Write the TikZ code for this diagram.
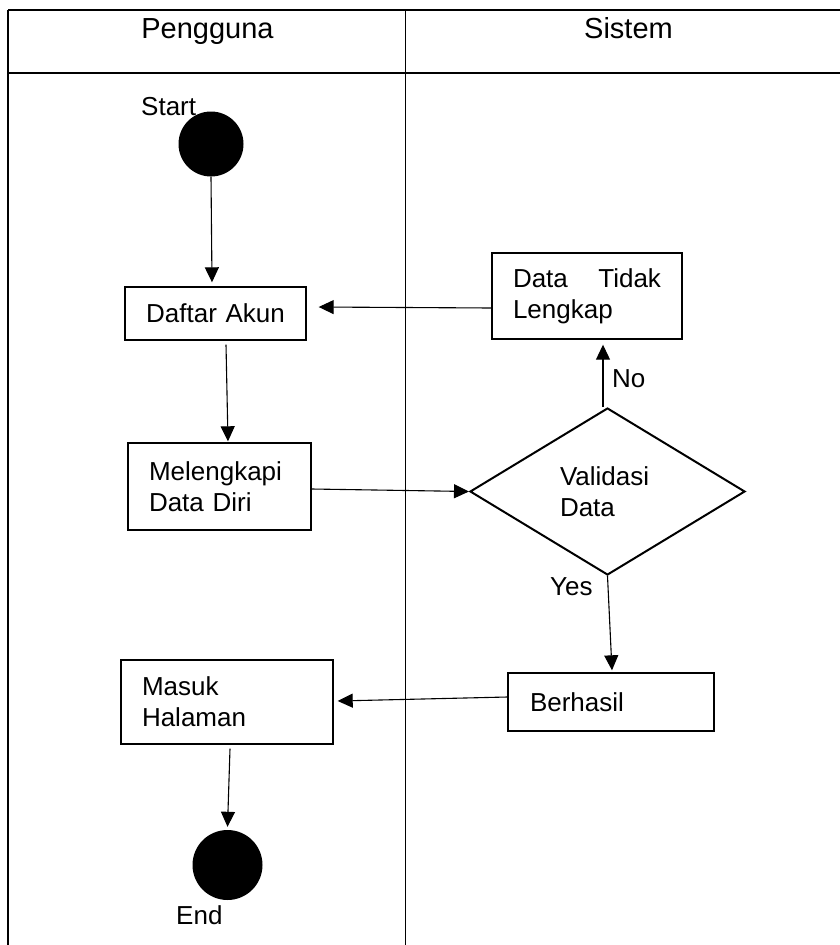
\documentclass[tikz,border=0pt]{standalone}
\usepackage{fontspec}
\setmainfont{Liberation Sans}
\usetikzlibrary{arrows.meta,shapes.geometric}

\begin{document}
\begin{tikzpicture}[x = 1pt, y = -1pt,
	act/.style = {rectangle, draw, line width = 1.4pt, align = left, inner ysep = 0pt, font = \fontsize{26}{31}\selectfont},
	lbl/.style = {inner sep = 0pt, anchor = base west, font = \fontsize{26}{31}\selectfont},
	hdr/.style = {inner sep = 0pt, anchor = base, font = \fontsize{29}{34}\selectfont},
	arr/.style = {-{Triangle[length = 15pt, width = 14pt]}, line width = 1.1pt},
	dot/.style = {circle, fill = black, inner sep = 0pt}]

\useasboundingbox (0, 0) rectangle (840, 945);

%% Draw Lanes

\draw[line width = 1.4pt] (8, 10) -- (840, 10);
\draw[line width = 1.4pt] (8, 73) -- (840, 73);
\draw[line width = 1.2pt] (8, 10) -- (8, 945);
\draw[line width = 1.2pt] (405.5, 10) -- (405.5, 945);

\node[hdr] (pengguna) at (207.5, 38) {Pengguna};
\node[hdr] (sistem) at (628.5, 38) {Sistem};

%% Start and End

\node[dot, minimum size = 65pt] (start) at (211, 144) {};
\node[lbl] (starttxt) at (141, 115) {Start};

\node[dot, minimum size = 70pt] (end) at (227.5, 865) {};
\node[lbl] (endtxt) at (176, 924) {End};

%% Activities

\node[act, align = center, text width = 161pt, inner xsep = 10pt, minimum height = 53pt] (daftar) at (215.5, 313.5) {Daftar Akun};

\node[act, text width = 141pt, inner xsep = 21pt, minimum height = 87pt] (mel) at (219.5, 486.5) {Melengkapi\\Data Diri};

\node[act, text width = 148pt, inner xsep = 21pt, minimum height = 86pt] (tidak) at (587, 296) {\makebox[148pt][s]{Data\hfill Tidak}\\Lengkap};

\node[act, text width = 170pt, inner xsep = 21pt, minimum height = 84pt] (masuk) at (227, 702) {Masuk\\Halaman};

\node[act, text width = 162pt, inner xsep = 22pt, minimum height = 58pt] (berhasil) at (611, 702) {Berhasil};

%% Decision

\node[diamond, draw, line width = 2pt, align = left, text width = 95pt, inner sep = 0pt, minimum width = 275pt, minimum height = 167pt, font = \fontsize{26}{31}\selectfont] (valid) at (607.5, 491.5) {Validasi\\Data};

\node[lbl] (no) at (612, 387) {No};
\node[lbl] (yes) at (550, 595) {Yes};

%% Arrows

\draw[arr] (start.south) -- ([xshift = -3.5pt, yshift = 4pt]daftar.north);

\draw[arr] ([xshift = 10.5pt, yshift = -4pt]daftar.south) -- ([xshift = 8.5pt, yshift = 1pt]mel.north);

\draw[arr] ([yshift = -2.5pt]mel.east) -- (valid.west);

\draw[arr] ([xshift = -4.5pt]valid.north) -- ([xshift = 16pt, yshift = -5pt]tidak.south);

\draw[arr] ([yshift = -12pt]tidak.west) -- ([xshift = 12pt, yshift = 6.5pt]daftar.east);

\draw[arr] (valid.south) -- ([xshift = 1pt, yshift = 2pt]berhasil.north);

\draw[arr] ([yshift = 5pt]berhasil.west) -- ([xshift = 4pt, yshift = 1pt]masuk.east);

\draw[arr] ([xshift = 3pt, yshift = -4pt]masuk.south) -- ([yshift = 3pt]end.north);

\end{tikzpicture}
\end{document}
